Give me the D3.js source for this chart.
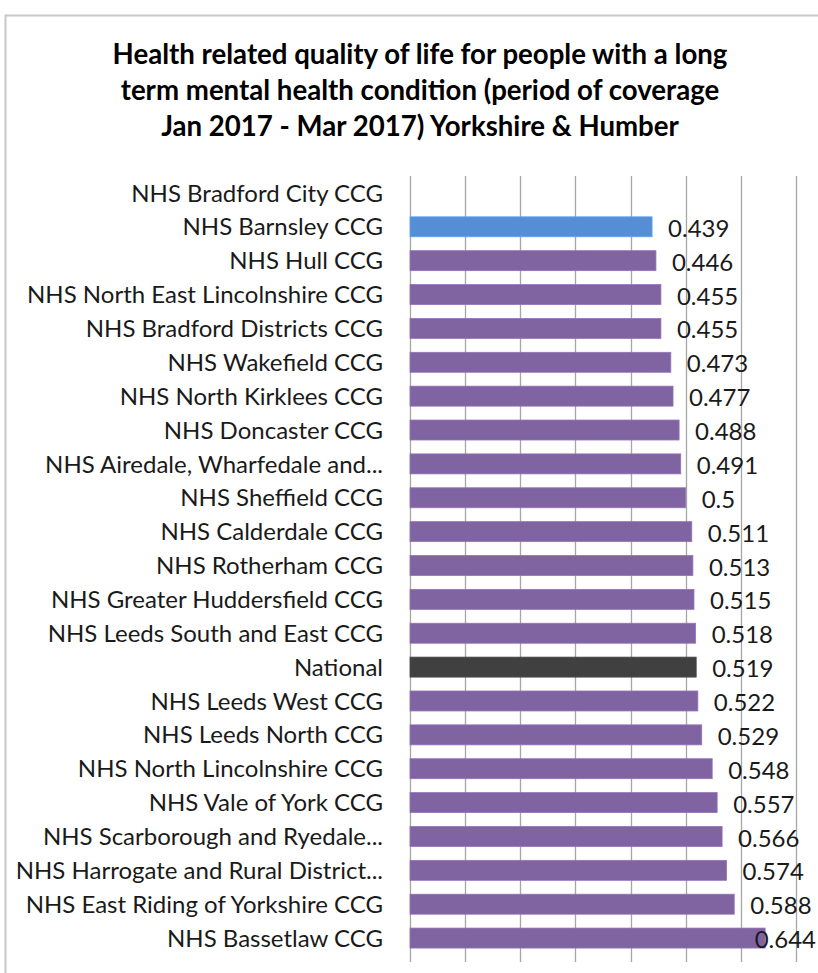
<!DOCTYPE html>
<html><head><meta charset="utf-8">
<script src="https://cdn.jsdelivr.net/npm/d3@7"></script>
<style>body{margin:0;background:#fff}svg{display:block}</style>
</head><body>
<svg id="c" width="818" height="973"></svg>
<script>
const titleLines = ["Health related quality of life for people with a long","term mental health condition (period of coverage","Jan 2017 - Mar 2017) Yorkshire & Humber"];
const categories = ["NHS Bradford City CCG","NHS Barnsley CCG","NHS Hull CCG","NHS North East Lincolnshire CCG","NHS Bradford Districts CCG","NHS Wakefield CCG","NHS North Kirklees CCG","NHS Doncaster CCG","NHS Airedale, Wharfedale and...","NHS Sheffield CCG","NHS Calderdale CCG","NHS Rotherham CCG","NHS Greater Huddersfield CCG","NHS Leeds South and East CCG","National","NHS Leeds West CCG","NHS Leeds North CCG","NHS North Lincolnshire CCG","NHS Vale of York CCG","NHS Scarborough and Ryedale...","NHS Harrogate and Rural District...","NHS East Riding of Yorkshire CCG","NHS Bassetlaw CCG"];
const values = [null,0.439,0.446,0.455,0.455,0.473,0.477,0.488,0.491,0.5,0.511,0.513,0.515,0.518,0.519,0.522,0.529,0.548,0.557,0.566,0.574,0.588,0.644];
const valueLabels = ["","0.439","0.446","0.455","0.455","0.473","0.477","0.488","0.491","0.5","0.511","0.513","0.515","0.518","0.519","0.522","0.529","0.548","0.557","0.566","0.574","0.588","0.644"];
const xTicks = [0,0.1,0.2,0.3,0.4,0.5,0.6,0.7];

const svg = d3.select("#c");
const font = "Lato, 'Open Sans', sans-serif";
// frame
svg.append("path").attr("d","M5.5,973 V15.5 H818").attr("fill","none").attr("stroke","#c8c8c8").attr("stroke-width",2);

const x = d3.scaleLinear().domain([0,0.7]).range([410,796]);
const y = d3.scaleBand().domain(categories).range([176,955]).paddingInner(0.41).paddingOuter(0.205);

// gridlines
svg.append("g").selectAll("line").data(xTicks).join("line")
  .attr("x1",d=>Math.round(x(d))+0.5).attr("x2",d=>Math.round(x(d))+0.5)
  .attr("y1",176).attr("y2",962).attr("stroke","#a6a6a6").attr("stroke-width",1.3);

const colorFor = (c)=> c==="National" ? "#404040" : (c==="NHS Barnsley CCG" ? "#558ed5" : "#8064a2");
const rows = categories.map((c,i)=>({c, v:values[i], lab:valueLabels[i]}));

svg.append("g").selectAll("rect").data(rows.filter(d=>d.v!=null)).join("rect")
  .attr("x",x(0)).attr("y",d=>y(d.c)).attr("width",d=>x(d.v)-x(0)).attr("height",y.bandwidth())
  .attr("fill",d=>colorFor(d.c)).attr("stroke",d=>d3.color(colorFor(d.c)).brighter(0.4)).attr("stroke-width",0.8);

// category labels
svg.append("g").selectAll("text").data(rows).join("text")
  .attr("x",383).attr("y",d=>y(d.c)+y.bandwidth()/2).attr("dy","0.36em")
  .attr("text-anchor","end").attr("font-family",font).attr("font-size",24).attr("fill","#1a1a1a")
  .text(d=>d.c);

// value labels
const vl = svg.append("g").selectAll("text").data(rows.filter(d=>d.v!=null)).join("text")
  .attr("y",d=>y(d.c)+y.bandwidth()/2).attr("dy","0.42em")
  .attr("font-family",font).attr("font-size",24).attr("fill","#1a1a1a")
  .text(d=>d.lab);
vl.each(function(d){
  const w=this.getComputedTextLength();
  d3.select(this).attr("x", Math.min(x(d.v)+16, 816-w));
});

// title
const tt = svg.append("g").selectAll("text").data(titleLines).join("text")
  .attr("x",420).attr("y",(d,i)=>64+i*36).attr("text-anchor","middle")
  .attr("font-family",font).attr("font-weight","bold")
  .attr("font-size",24).attr("fill","#000").text(d=>d);
const w0 = tt.nodes()[0].getComputedTextLength();
tt.attr("font-size", 24*615/w0);
</script>
</body></html>
